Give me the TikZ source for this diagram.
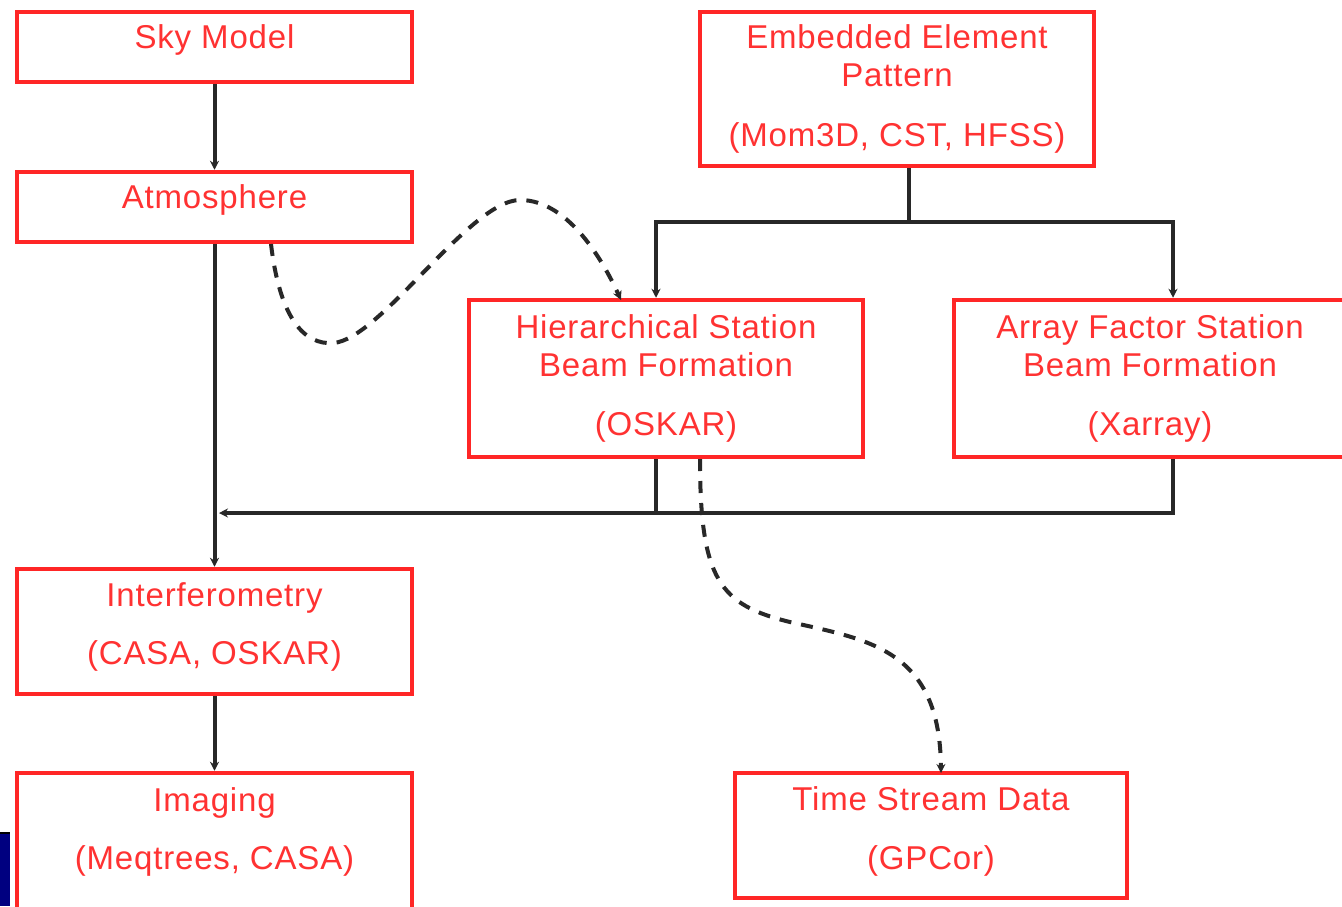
\documentclass[tikz,border=0pt]{standalone}
\usepackage{fontspec}
\setmainfont[LetterSpace=2.5]{Liberation Sans}
\usetikzlibrary{arrows.meta}
\definecolor{boxred}{RGB}{255,38,38}
\definecolor{txtred}{RGB}{255,50,50}
\definecolor{wire}{RGB}{40,40,40}
\definecolor{barblue}{RGB}{0,0,128}
\tikzset{
  blk/.style={draw=boxred, line width=4.5pt, fill=white, inner sep=0pt, minimum width=#1},
  lbl/.style={text=txtred, font=\fontsize{33}{38}\selectfont, anchor=base, inner sep=0pt},
  wireline/.style={draw=wire, line width=4pt},
  tip/.style={-{Stealth[length=9pt,width=9pt]}},
  dashwire/.style={draw=wire, line width=4pt, dash pattern=on 12pt off 10pt, line cap=butt}
}
\begin{document}
\begin{tikzpicture}[x=1pt,y=-1pt]
\useasboundingbox (0,0) rectangle (1342,906);
\clip (0,0) rectangle (1342,906);
\fill[white] (0,0) rectangle (1342,906);

% boxes (border midlines)
\node[blk=395pt, minimum height=70pt] (sky)  at (214.5,47) {};
\node[blk=395pt, minimum height=70pt] (atm)  at (214.5,207) {};
\node[blk=394pt, minimum height=154pt] (emb) at (897,89) {};
\node[blk=394pt, minimum height=157pt] (hier) at (666,378.5) {};
\node[blk=396pt, minimum height=157pt] (arr) at (1152,378.5) {};
\node[blk=395pt, minimum height=125pt] (intf) at (214.5,631.5) {};
\node[blk=395pt, minimum height=147pt] (img) at (214.5,846.5) {};
\node[blk=392pt, minimum height=125pt] (tsd) at (931,835.5) {};

% labels
\node[lbl] (sky-a) at (214.5,48) {Sky Model};
\node[lbl] (atm-a) at (214.5,208) {Atmosphere};
\node[lbl] (emb-a) at (897,48) {Embedded Element};
\node[lbl] (emb-b) at (897,86) {Pattern};
\node[lbl] (emb-c) at (897,146) {(Mom3D, CST, HFSS)};
\node[lbl] (hier-a) at (666,338) {Hierarchical Station};
\node[lbl] (hier-b) at (666,376) {Beam Formation};
\node[lbl] (hier-c) at (666,435) {(OSKAR)};
\node[lbl] (arr-a) at (1150,338) {Array Factor Station};
\node[lbl] (arr-b) at (1150,376) {Beam Formation};
\node[lbl] (arr-c) at (1150,435) {(Xarray)};
\node[lbl] (intf-a) at (214.5,606) {Interferometry};
\node[lbl] (intf-b) at (214.5,664) {(CASA, OSKAR)};
\node[lbl] (img-a) at (214.5,811) {Imaging};
\node[lbl] (img-b) at (214.5,869) {(Meqtrees, CASA)};
\node[lbl] (tsd-a) at (931,810) {Time Stream Data};
\node[lbl] (tsd-b) at (931,869) {(GPCor)};

% routing points
\coordinate (split) at (909,222);
\coordinate (hx) at (656,0);
\coordinate (ax) at (1173,0);
\coordinate (merge) at (656,513);
\coordinate (mx) at (215,513);
\coordinate (ix) at (1173,513);

% solid connectors
\draw[wireline, tip] (sky.south) -- (atm.north);
\draw[wireline, tip] (atm.south) -- (intf.north);
\draw[wireline, tip] (intf.south) -- (img.north);
\draw[wireline] (split |- emb.south) -- (split);
\draw[wireline, tip] (split) -| (hx |- hier.north);
\draw[wireline, tip] (split) -| (ax |- arr.north);
\draw[wireline] (hx |- hier.south) -- (merge);
\draw[wireline, tip] (ax |- arr.south) -- (ix) -- ([xshift=4pt]mx);

% dashed connectors
\coordinate (d1s) at (271,244);
\coordinate (d1e) at (621,300);
\draw[dashwire, tip] (d1s) .. controls (280,320) and (305,345) .. (333,343)
  .. controls (380,340) and (470,200) .. (520,200)
  .. controls (570,200) and (605,265) .. (d1e);
\coordinate (d2s) at (700,459);
\coordinate (d2e) at (941,773);
\draw[dashwire, tip] (d2s) .. controls (700,580) and (720,605) .. (790,622)
  .. controls (870,640) and (940,650) .. (d2e);

% corner bar
\fill[barblue] (0,833) rectangle (10,906);
\draw[black, line width=1.5pt] (0,833) -- (10,833);
\end{tikzpicture}
\end{document}
